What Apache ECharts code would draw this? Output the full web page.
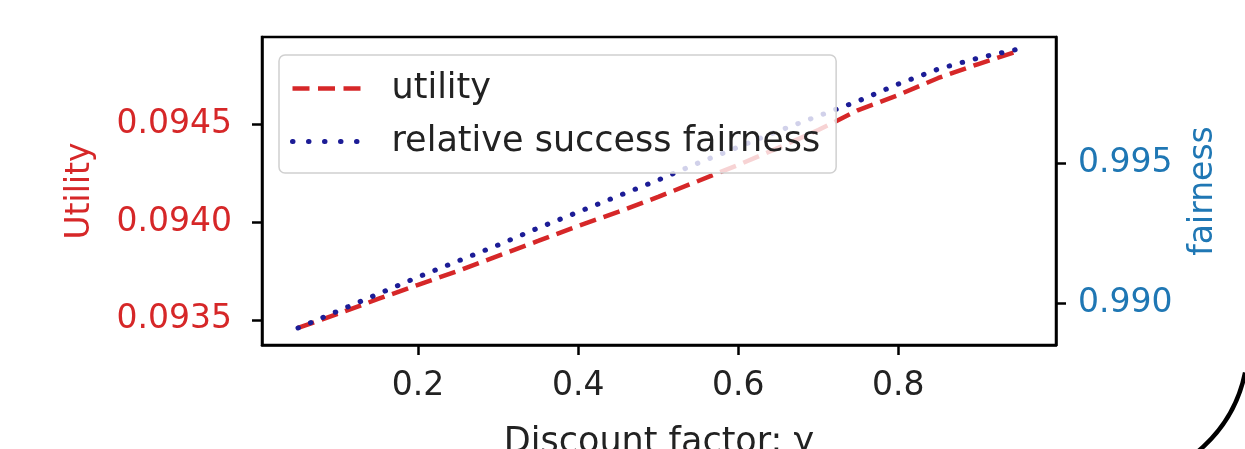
<!DOCTYPE html>
<html>
<head>
<meta charset="utf-8">
<script src="https://cdn.jsdelivr.net/npm/echarts@6/dist/echarts.min.js"></script>
<style>
html,body{margin:0;padding:0;background:#fff;}
#chart{width:1245px;height:449px;}
</style>
</head>
<body>
<div id="chart"></div>
<script>
// Discount factor values (x)
const gammaValues = [0.05,0.10,0.15,0.20,0.25,0.30,0.35,0.40,0.45,0.50,0.55,0.60,0.65,0.70,0.75,0.80,0.85,0.90,0.95];
// Utility (left axis)
const utilityValues = [0.093459,0.093531,0.093607,0.093679,0.093750,0.093827,0.093903,0.093980,0.094051,0.094128,0.094209,0.094291,0.094378,0.094469,0.094571,0.094648,0.094735,0.094806,0.094872];
// Relative success fairness (right axis)
const fairnessValues = [0.989107,0.989714,0.990321,0.990929,0.991500,0.992071,0.992679,0.993250,0.993821,0.994393,0.995000,0.995571,0.996143,0.996679,0.997214,0.997821,0.998357,0.998750,0.999071];
// Tick labels
const xTicks = [0.2,0.4,0.6,0.8];
const utilityTicks = [0.0935,0.0940,0.0945];
const fairnessTicks = [0.990,0.995];
const seriesNames = ['utility','relative success fairness'];
const axisTitles = {x:'Discount factor: γ', left:'Utility', right:'fairness'};

const RED = '#d62728';
const BLUE = '#1f77b4';
const NAVY = '#1c1c96';
const FONT = 'DejaVu Sans';
const FS = 33;
const dashStyle = {color:RED,width:4.5,type:[17,8]};
const dotStyle = {color:NAVY,width:5,type:[0.5,13],cap:'round'};

const chart = echarts.init(document.getElementById('chart'), null, {renderer:'canvas'});
const option = {
  animation:false,
  backgroundColor:'#fff',
  grid:{left:262,right:189,top:37,bottom:104,containLabel:false,outerBoundsMode:'none',show:true,borderColor:'#000',borderWidth:2.5,backgroundColor:'transparent'},
  legend:{
    orient:'vertical', left:279, top:55,
    padding:[16,16,14,11],
    itemGap:18, itemWidth:70, itemHeight:14,
    backgroundColor:'rgba(255,255,255,0.8)',
    borderColor:'#d0d0d0', borderWidth:1.5, borderRadius:6,
    itemStyle:{opacity:0},
    textStyle:{fontFamily:FONT,fontSize:35,color:'#222',padding:[0,0,0,24]},
    data:[
      {name:seriesNames[0], lineStyle:{width:4.5,type:[17,8.5]}},
      {name:seriesNames[1], lineStyle:{width:5,type:[0.5,15.5],cap:'round'}}
    ]
  },
  xAxis:{
    type:'value', min:0.005, max:0.997,
    name:axisTitles.x, nameLocation:'middle', nameGap:80,
    nameTextStyle:{fontFamily:FONT,fontSize:35,color:'#222',verticalAlign:'top'},
    axisLine:{show:true,onZero:false,lineStyle:{color:'#000',width:2.5}},
    axisTick:{show:true,length:10,lineStyle:{color:'#000',width:2.5},customValues:xTicks},
    axisLabel:{fontFamily:FONT,fontSize:FS,color:'#222',margin:25,customValues:xTicks,formatter:v=>v.toFixed(1)},
    splitLine:{show:false}
  },
  yAxis:[{
    type:'value', position:'left', min:0.093372, max:0.094944,
    name:axisTitles.left, nameLocation:'middle', nameGap:165, nameRotate:90,
    nameTextStyle:{fontFamily:FONT,fontSize:FS,color:RED},
    axisLine:{show:true,onZero:false,lineStyle:{color:'#000',width:2.5}},
    axisTick:{show:true,length:10,lineStyle:{color:'#000',width:2.5},customValues:utilityTicks},
    axisLabel:{fontFamily:FONT,fontSize:FS,color:RED,margin:30,customValues:utilityTicks,formatter:v=>v.toFixed(4)},
    splitLine:{show:false}
  },{
    type:'value', position:'right', min:0.9885, max:0.9995,
    name:axisTitles.right, nameLocation:'middle', nameGap:131, nameRotate:90,
    nameTextStyle:{fontFamily:FONT,fontSize:FS,color:BLUE},
    axisLine:{show:true,onZero:false,lineStyle:{color:'#000',width:2.5}},
    axisTick:{show:true,length:10,lineStyle:{color:'#000',width:2.5},customValues:fairnessTicks},
    axisLabel:{fontFamily:FONT,fontSize:FS,color:BLUE,margin:22,customValues:fairnessTicks,formatter:v=>v.toFixed(3)},
    splitLine:{show:false}
  }],
  series:[{
    name:seriesNames[0], type:'line', yAxisIndex:0, showSymbol:false, symbol:'none',
    data:gammaValues.map((g,i)=>[g,utilityValues[i]]),
    lineStyle:dashStyle,
    itemStyle:{color:RED}, z:2
  },{
    name:seriesNames[1], type:'line', yAxisIndex:1, showSymbol:false, symbol:'none',
    data:gammaValues.map((g,i)=>[g,fairnessValues[i]]),
    lineStyle:dotStyle,
    itemStyle:{color:NAVY}, z:3
  }],
  graphic:[{
    type:'arc', shape:{cx:1109.5,cy:345,r:138.4,startAngle:0.2,endAngle:1.45},
    style:{stroke:'#000',lineWidth:4.5,fill:null}, silent:true
  }]
};
chart.setOption(option);
</script>
</body>
</html>
